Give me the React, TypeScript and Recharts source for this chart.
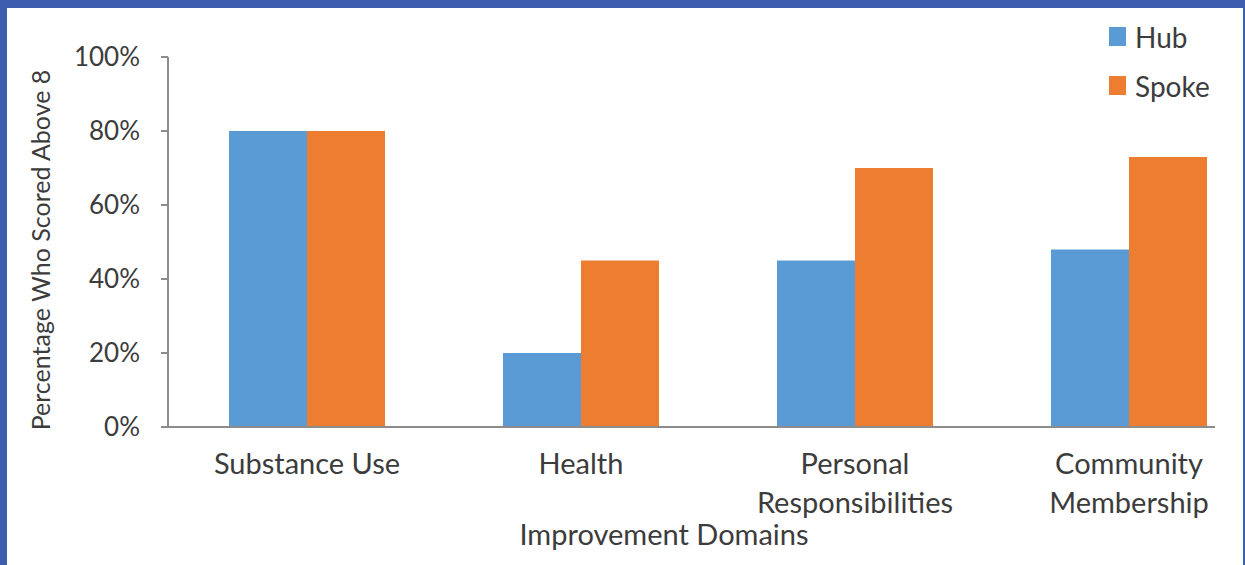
import React from 'react';
import { BarChart, Bar, XAxis, YAxis, Legend } from 'recharts';

const categories = ['Substance Use', 'Health', 'Personal Responsibilities', 'Community Membership'];
const tickLabels = ['Substance Use', 'Health', 'Personal\nResponsibilities', 'Community\nMembership'];
const hubValues = [80, 20, 45, 48];
const spokeValues = [80, 45, 70, 73];
const yTicks = [0, 20, 40, 60, 80, 100];

const HUB = '#5B9BD5';
const SPOKE = '#ED7D31';
const TEXT = '#3c3c3c';
const AXIS = '#8c8c8c';
const FONT = 'Lato, "Open Sans", sans-serif';

const data = categories.map((name, i) => ({
  name,
  hub: hubValues[i],
  spoke: spokeValues[i],
}));

const CategoryTick = (props: any) => {
  const { x, y, payload } = props;
  const lines = String(tickLabels[payload.index] ?? payload.value).split('\n');
  return (
    <text x={x} y={y} textAnchor="middle" fill={TEXT} fontSize={29} fontFamily={FONT}>
      {lines.map((line, i) => (
        <tspan key={i} x={x} dy={39}>
          {line}
        </tspan>
      ))}
    </text>
  );
};

const XTitle = () => (
  <text x={664} y={545} textAnchor="middle" fill={TEXT} fontSize={29} fontFamily={FONT}>
    Improvement Domains
  </text>
);

const YTitle = () => (
  <text
    x={40}
    y={250}
    transform="rotate(-90, 40, 250)"
    textAnchor="middle"
    dominantBaseline="central"
    fill={TEXT}
    fontSize={25}
    fontFamily={FONT}
  >
    Percentage Who Scored Above 8
  </text>
);

const LegendBox = () => (
  <div style={{ fontFamily: FONT, fontSize: 28, color: TEXT }}>
    {[
      { name: 'Hub', color: HUB },
      { name: 'Spoke', color: SPOKE },
    ].map((item) => (
      <div key={item.name} style={{ display: 'flex', alignItems: 'center', height: 49 }}>
        <span style={{ width: 17, height: 19, background: item.color, marginRight: 9 }} />
        <span>{item.name}</span>
      </div>
    ))}
  </div>
);

export default function App() {
  return (
    <div
      style={{
        position: 'absolute',
        left: 0,
        top: 0,
        width: 1245,
        height: 565,
        background: '#fff',
        overflow: 'hidden',
      }}
    >
      {/* plot runs past the right edge so the four category bands keep their width */}
      <BarChart
        width={1266}
        height={565}
        data={data}
        barGap={0}
        margin={{ top: 57, right: 0, bottom: 0, left: 0 }}
      >
        <XAxis
          dataKey="name"
          height={138}
          padding={{ left: 2, right: 0 }}
          axisLine={false}
          tickLine={false}
          tick={<CategoryTick />}
          interval={0}
          label={<XTitle />}
        />
        <YAxis
          width={168}
          domain={[0, 100]}
          ticks={yTicks}
          tickFormatter={(v: number) => `${v}%`}
          axisLine={{ stroke: AXIS, strokeWidth: 2 }}
          tickLine={{ stroke: AXIS, strokeWidth: 2 }}
          tickSize={7}
          tickMargin={21}
          tick={{ fill: TEXT, fontSize: 26, fontFamily: FONT }}
          label={<YTitle />}
        />
        {/* vertical + center + middle: legend takes no room from the plot */}
        <Legend
          content={<LegendBox />}
          layout="vertical"
          verticalAlign="middle"
          align="center"
          wrapperStyle={{ position: 'absolute', top: 12, left: 1109, width: 130 }}
        />
        <Bar dataKey="hub" name="Hub" fill={HUB} barSize={78} isAnimationActive={false} />
        <Bar dataKey="spoke" name="Spoke" fill={SPOKE} barSize={78} isAnimationActive={false} />
      </BarChart>
      {/* category axis line stops short of the last band, as in the source */}
      <div
        style={{
          position: 'absolute',
          left: 168,
          top: 426,
          width: 1047,
          height: 2,
          background: AXIS,
        }}
      />
      <div
        style={{
          position: 'absolute',
          left: 0,
          top: 0,
          width: 1245,
          height: 565,
          boxSizing: 'border-box',
          borderTop: '8px solid #3D5DAF',
          borderLeft: '7px solid #3D5DAF',
          borderRight: '2px solid #3D5DAF',
          pointerEvents: 'none',
        }}
      />
    </div>
  );
}
